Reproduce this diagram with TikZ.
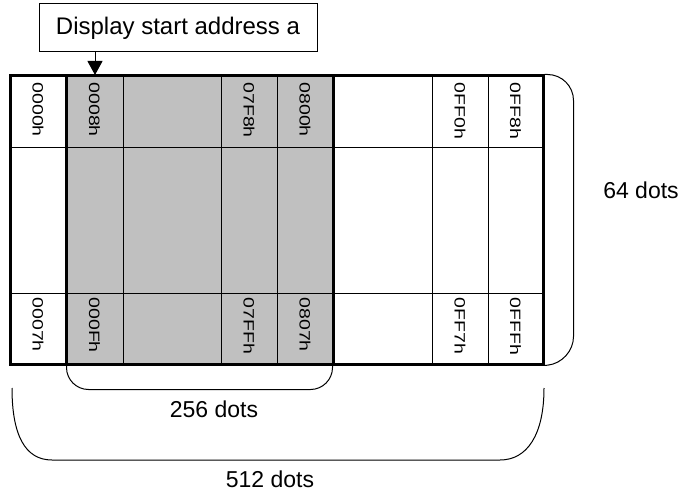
\documentclass[tikz,border=0pt]{standalone}
\usepackage{fontspec}
\setmainfont{Liberation Sans}
\newfontfamily\addrfont[FakeStretch=1.3]{Liberation Sans}
\usetikzlibrary{arrows.meta}
\definecolor{shade}{HTML}{C0C0C0}

\begin{document}
\begin{tikzpicture}[x=1pt,y=-1pt,line width=1pt,
  frame/.style={draw,line width=3pt,inner sep=0pt},
  addr/.style={rotate=-90,anchor=west,inner sep=0pt,font=\addrfont\fontsize{15}{15}\selectfont},
  dots/.style={font=\fontsize{23}{27}\selectfont}]
\useasboundingbox (0,0) rectangle (682,494);
\node[frame,minimum width=533pt,minimum height=288pt] (mem) at (276.5,220) {};
\node[frame,fill=shade,minimum width=267pt,minimum height=288pt] (win) at (199.5,220) {};
% grid
\draw (10,148) -- (543,148);
\draw (10,293) -- (543,293);
\foreach \x in {123,221,277,432,488}
  \draw (\x,76) -- (\x,364);
% addresses
\node[addr] (a0) at (38,82) {0000h};
\node[addr] (a1) at (94.5,82) {0008h};
\node[addr] (a2) at (249,82) {07F8h};
\node[addr] (a3) at (305,82) {0800h};
\node[addr] (a4) at (460,82) {0FF0h};
\node[addr] (a5) at (515.5,82) {0FF8h};
\node[addr] (b0) at (38,297) {0007h};
\node[addr] (b1) at (94.5,297) {000Fh};
\node[addr] (b2) at (249,297) {07FFh};
\node[addr] (b3) at (305,297) {0807h};
\node[addr] (b4) at (460,297) {0FF7h};
\node[addr] (b5) at (515.5,297) {0FFFh};
% start address
\node[draw,minimum width=278pt,minimum height=48pt,font=\fontsize{24}{28}\selectfont] (start) at (178,28) {Display start address a};
\coordinate (apos) at (95,75);
\draw[-{Triangle[width=15pt,length=14pt]}] (start.south -| apos) -- (apos);
% brackets
\draw[rounded corners=26pt] (mem.north east) -- ++(29,0) -- ++(0,288) -- (mem.south east);
\draw[rounded corners=22pt] ([xshift=2pt]win.south west) -- ++(0,24) -| ([xshift=-2pt]win.south east);
\coordinate (l512) at (12,388);
\coordinate (r512) at (544,388);
\draw (l512) .. controls (12,435) and (25,460) .. (52,460) -- (500,460) .. controls (527,460) and (544,435) .. (r512);
\node[dots] (d64) at (641,190) {64 dots};
\node[dots] (d256) at (214,409) {256 dots};
\node[dots] (d512) at (270,479) {512 dots};
\end{tikzpicture}
\end{document}
